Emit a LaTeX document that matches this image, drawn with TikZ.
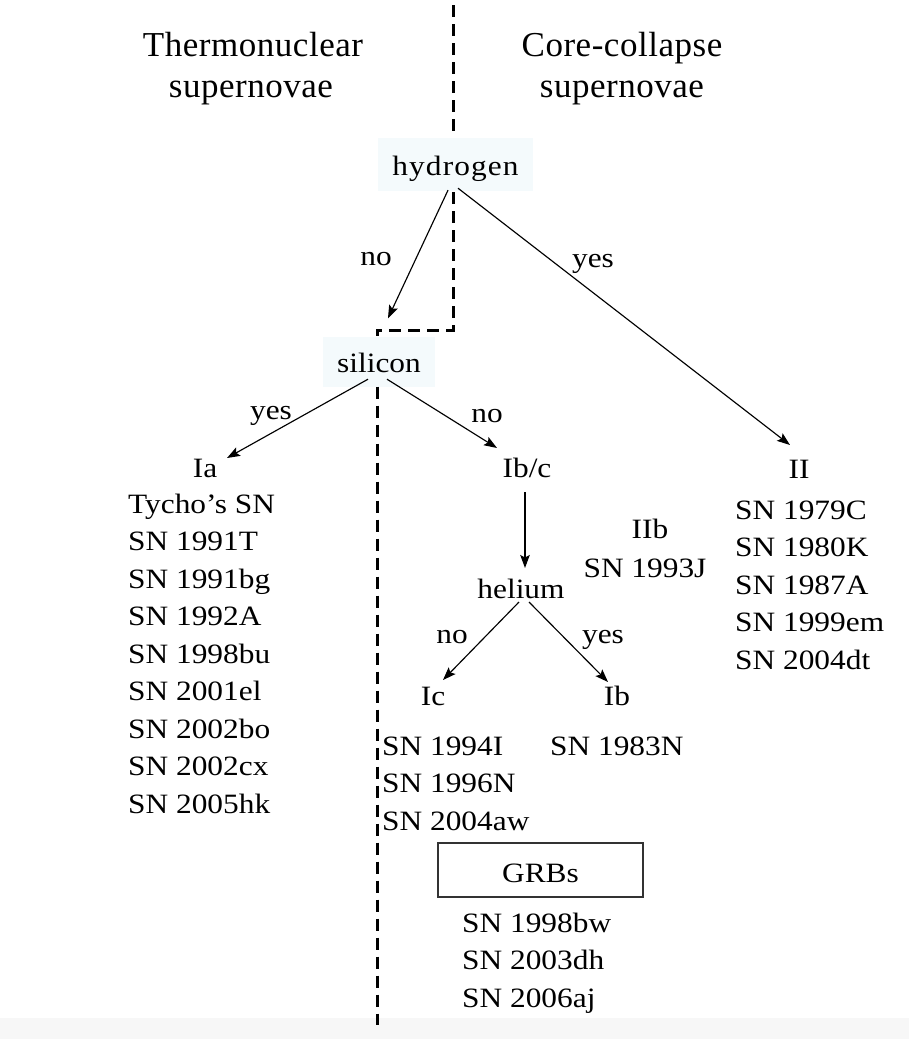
\documentclass[tikz,border=0pt]{standalone}
\usepackage{fontspec}
\setmainfont{Liberation Serif}[FakeStretch=1.12]
\newfontfamily\hdrfont{Liberation Serif}[LetterSpace=1.5]
\newfontfamily\keyfont{Liberation Serif}[FakeStretch=1.12,LetterSpace=4]
\usetikzlibrary{arrows.meta,calc}
\definecolor{paleblue}{RGB}{244,250,252}
\definecolor{bandgray}{RGB}{247,247,247}
\begin{document}
\begin{tikzpicture}[x=1pt,y=-1pt,
  every node/.style={inner sep=0pt, font=\fontsize{28}{33}\selectfont},
  txt/.style={anchor=base},
  item/.style={anchor=base west},
  hdr/.style={anchor=base, font=\hdrfont\fontsize{35}{40}\selectfont},
  divider/.style={line width=3pt, dash pattern=on 12pt off 7pt},
  conn/.style={line width=1.15pt, -{Stealth[length=13pt,width=9.5pt,inset=2.5pt]}},
  keybox/.style={fill=paleblue, text height=21pt, text depth=0pt},
  grbbox/.style={draw=black!80, line width=1.2pt, minimum width=205pt, minimum height=54pt, text height=24pt, text depth=0pt}
]
\useasboundingbox (0,0) rectangle (909,1039);
\fill[white] (0,0) rectangle (909,1039);
\fill[bandgray] (0,1018) rectangle (909,1039);

% headers
\node[hdr] (th1) at (253,56.7) {Thermonuclear};
\node[hdr] (th2) at (251,97.7) {supernovae};
\node[hdr] (cc1) at (622,56.7) {Core-collapse};
\node[hdr] (cc2) at (622,97.7) {supernovae};

% decision nodes
\node[keybox, minimum width=155pt, minimum height=53pt, font=\keyfont\fontsize{28}{33}\selectfont] (hydrogen) at (455.5,164.5) {hydrogen};
\node[keybox, minimum width=112pt, minimum height=50pt] (silicon) at (379,361.5) {silicon};
\node[txt] (helium) at (521,598) {helium};

% classes
\node[txt] (Ia) at (205,477) {Ia};
\node[txt] (Ibc) at (527,477) {Ib/c};
\node[txt] (II) at (799,478) {II};
\node[txt] (Ic) at (433,705) {Ic};
\node[txt] (Ib) at (617,705) {Ib};
\node[txt] (IIb) at (650,538) {IIb};
\node[txt] (IIbsn) at (645,577) {SN 1993J};

% dividing line
\coordinate (dtop) at (453,5);
\coordinate (dbend) at (453,330);
\coordinate (dbot) at (377,1025);
\draw[divider] (dtop) -- (dtop |- hydrogen.north);
\draw[divider] ($(dtop |- hydrogen.south)+(0,1)$) -- (dbend) -- (dbend -| dbot) -- (dbot |- silicon.north);
\draw[divider] (dbot |- silicon.south) -- (dbot);

% connectors
\draw[conn] ($(hydrogen.south)+(-7.5,-1)$) -- ($(silicon.north)+(9,-18)$);
\draw[conn] ($(hydrogen.south)+(2.5,-3)$) -- ($(II.base)+(-9,-33)$);
\draw[conn] ($(silicon.south)+(-11,-7.5)$) -- ($(Ia.base)+(22,-19)$);
\draw[conn] ($(silicon.south)+(8,-7.5)$) -- ($(Ibc.base)+(-30,-29)$);
\draw[conn] ($(Ibc.base)+(-2,15)$) -- ($(helium.base)+(4,-30)$);
\draw[conn] ($(helium.base)+(-2,4)$) -- ($(Ic.base)+(10,-25)$);
\draw[conn] ($(helium.base)+(8,4)$) -- ($(Ib.base)+(-9,-23)$);

% connector labels
\node[txt] (l1) at (376,265) {no};
\node[txt] (l2) at (593,267) {yes};
\node[txt] (l3) at (271,419) {yes};
\node[txt] (l4) at (487,422) {no};
\node[txt] (l5) at (452,643) {no};
\node[txt] (l6) at (603,643) {yes};

% lists
\foreach \t [count=\i from 0] in {Tycho’s SN, SN 1991T, SN 1991bg, SN 1992A, SN 1998bu, SN 2001el, SN 2002bo, SN 2002cx, SN 2005hk}
  \node[item] (ia\i) at (128,{513+37.5*\i}) {\t};
\foreach \t [count=\i from 0] in {SN 1979C, SN 1980K, SN 1987A, SN 1999em, SN 2004dt}
  \node[item] (ii\i) at (735,{519+37.5*\i}) {\t};
\foreach \t [count=\i from 0] in {SN 1994I, SN 1996N, SN 2004aw}
  \node[item] (ic\i) at (382,{755+37.5*\i}) {\t};
\node[item] (ib0) at (550,755) {SN 1983N};

\node[grbbox] (grb) at (540.5,870) {GRBs};
\foreach \t [count=\i from 0] in {SN 1998bw, SN 2003dh, SN 2006aj}
  \node[item] (grb\i) at (462,{932+37.5*\i}) {\t};
\end{tikzpicture}
\end{document}
